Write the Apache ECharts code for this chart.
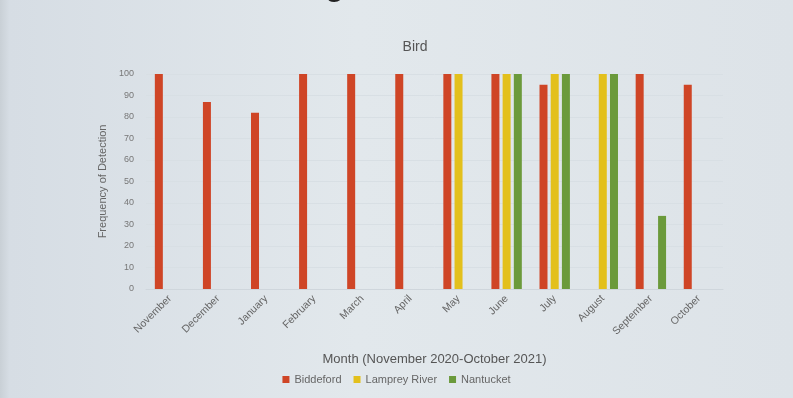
<!DOCTYPE html>
<html>
<head>
<meta charset="utf-8">
<script src="https://cdn.jsdelivr.net/npm/echarts@6/dist/echarts.min.js"></script>
<style>
  html, body { margin: 0; padding: 0; }
  #chart { width: 793px; height: 398px; background: linear-gradient(90deg, #c9d0d6 0%, #d6dde4 1.2%, #e2e8ec 45%, #dde3e8 100%); }
</style>
</head>
<body>
<div id="chart"></div>
<script>
const months = ['November', 'December', 'January', 'February', 'March', 'April', 'May', 'June', 'July', 'August', 'September', 'October'];
const biddeford = [100, 87, 82, 100, 100, 100, 100, 100, 95, null, 100, 95];
const lampreyRiver = [null, null, null, null, null, null, 100, 100, 100, 100, null, null];
const nantucket = [null, null, null, null, null, null, null, 100, 100, 100, 34, null];
const yTicks = [0, 10, 20, 30, 40, 50, 60, 70, 80, 90, 100];

const colors = ['#cf4526', '#e3c01c', '#6b9a3b'];
const chart = echarts.init(document.getElementById('chart'));

const bar = (name, data) => ({
  name,
  type: 'bar',
  barWidth: 8,
  barGap: '40%',
  data
});

chart.setOption({
  color: colors,
  title: {
    text: 'Bird',
    left: 410,
    top: 35,
    textAlign: 'center',
    textStyle: { fontFamily: 'Liberation Sans', fontSize: 14, fontWeight: 'normal', color: '#555' }
  },
  graphic: [{
    type: 'text',
    left: 172,
    top: -27,
    style: { text: 'at Each Region', font: 'bold 30px Liberation Sans', fill: '#222' }
  }],
  legend: {
    bottom: 8,
    left: 'center',
    itemWidth: 7,
    itemHeight: 7,
    itemGap: 12,
    icon: 'rect',
    textStyle: { fontFamily: 'Liberation Sans', fontSize: 11, color: '#666' }
  },
  grid: { left: 146, right: 70, top: 74, bottom: 109 },
  xAxis: {
    type: 'category',
    data: months,
    name: 'Month (November 2020-October 2021)',
    nameLocation: 'middle',
    nameGap: 64,
    nameTextStyle: { fontFamily: 'Liberation Sans', fontSize: 13, color: '#555' },
    axisLine: { lineStyle: { color: '#cfd6dc' } },
    axisTick: { show: false },
    axisLabel: { rotate: 45, interval: 0, fontFamily: 'Liberation Sans', fontSize: 10.5, color: '#666', margin: 8 }
  },
  yAxis: {
    type: 'value',
    min: 0,
    max: 100,
    interval: 10,
    name: 'Frequency of Detection',
    nameLocation: 'middle',
    nameGap: 28,
    nameTextStyle: { fontFamily: 'Liberation Sans', fontSize: 11, color: '#666' },
    axisLine: { show: false },
    axisTick: { show: false },
    splitLine: { lineStyle: { color: '#d8dfe4' } },
    axisLabel: {
      fontFamily: 'Liberation Sans', fontSize: 9, color: '#777', margin: 12,
      formatter: v => (yTicks.includes(v) ? String(v) : '')
    }
  },
  series: [
    bar('Biddeford', biddeford),
    bar('Lamprey River', lampreyRiver),
    bar('Nantucket', nantucket)
  ]
});
</script>
</body>
</html>
